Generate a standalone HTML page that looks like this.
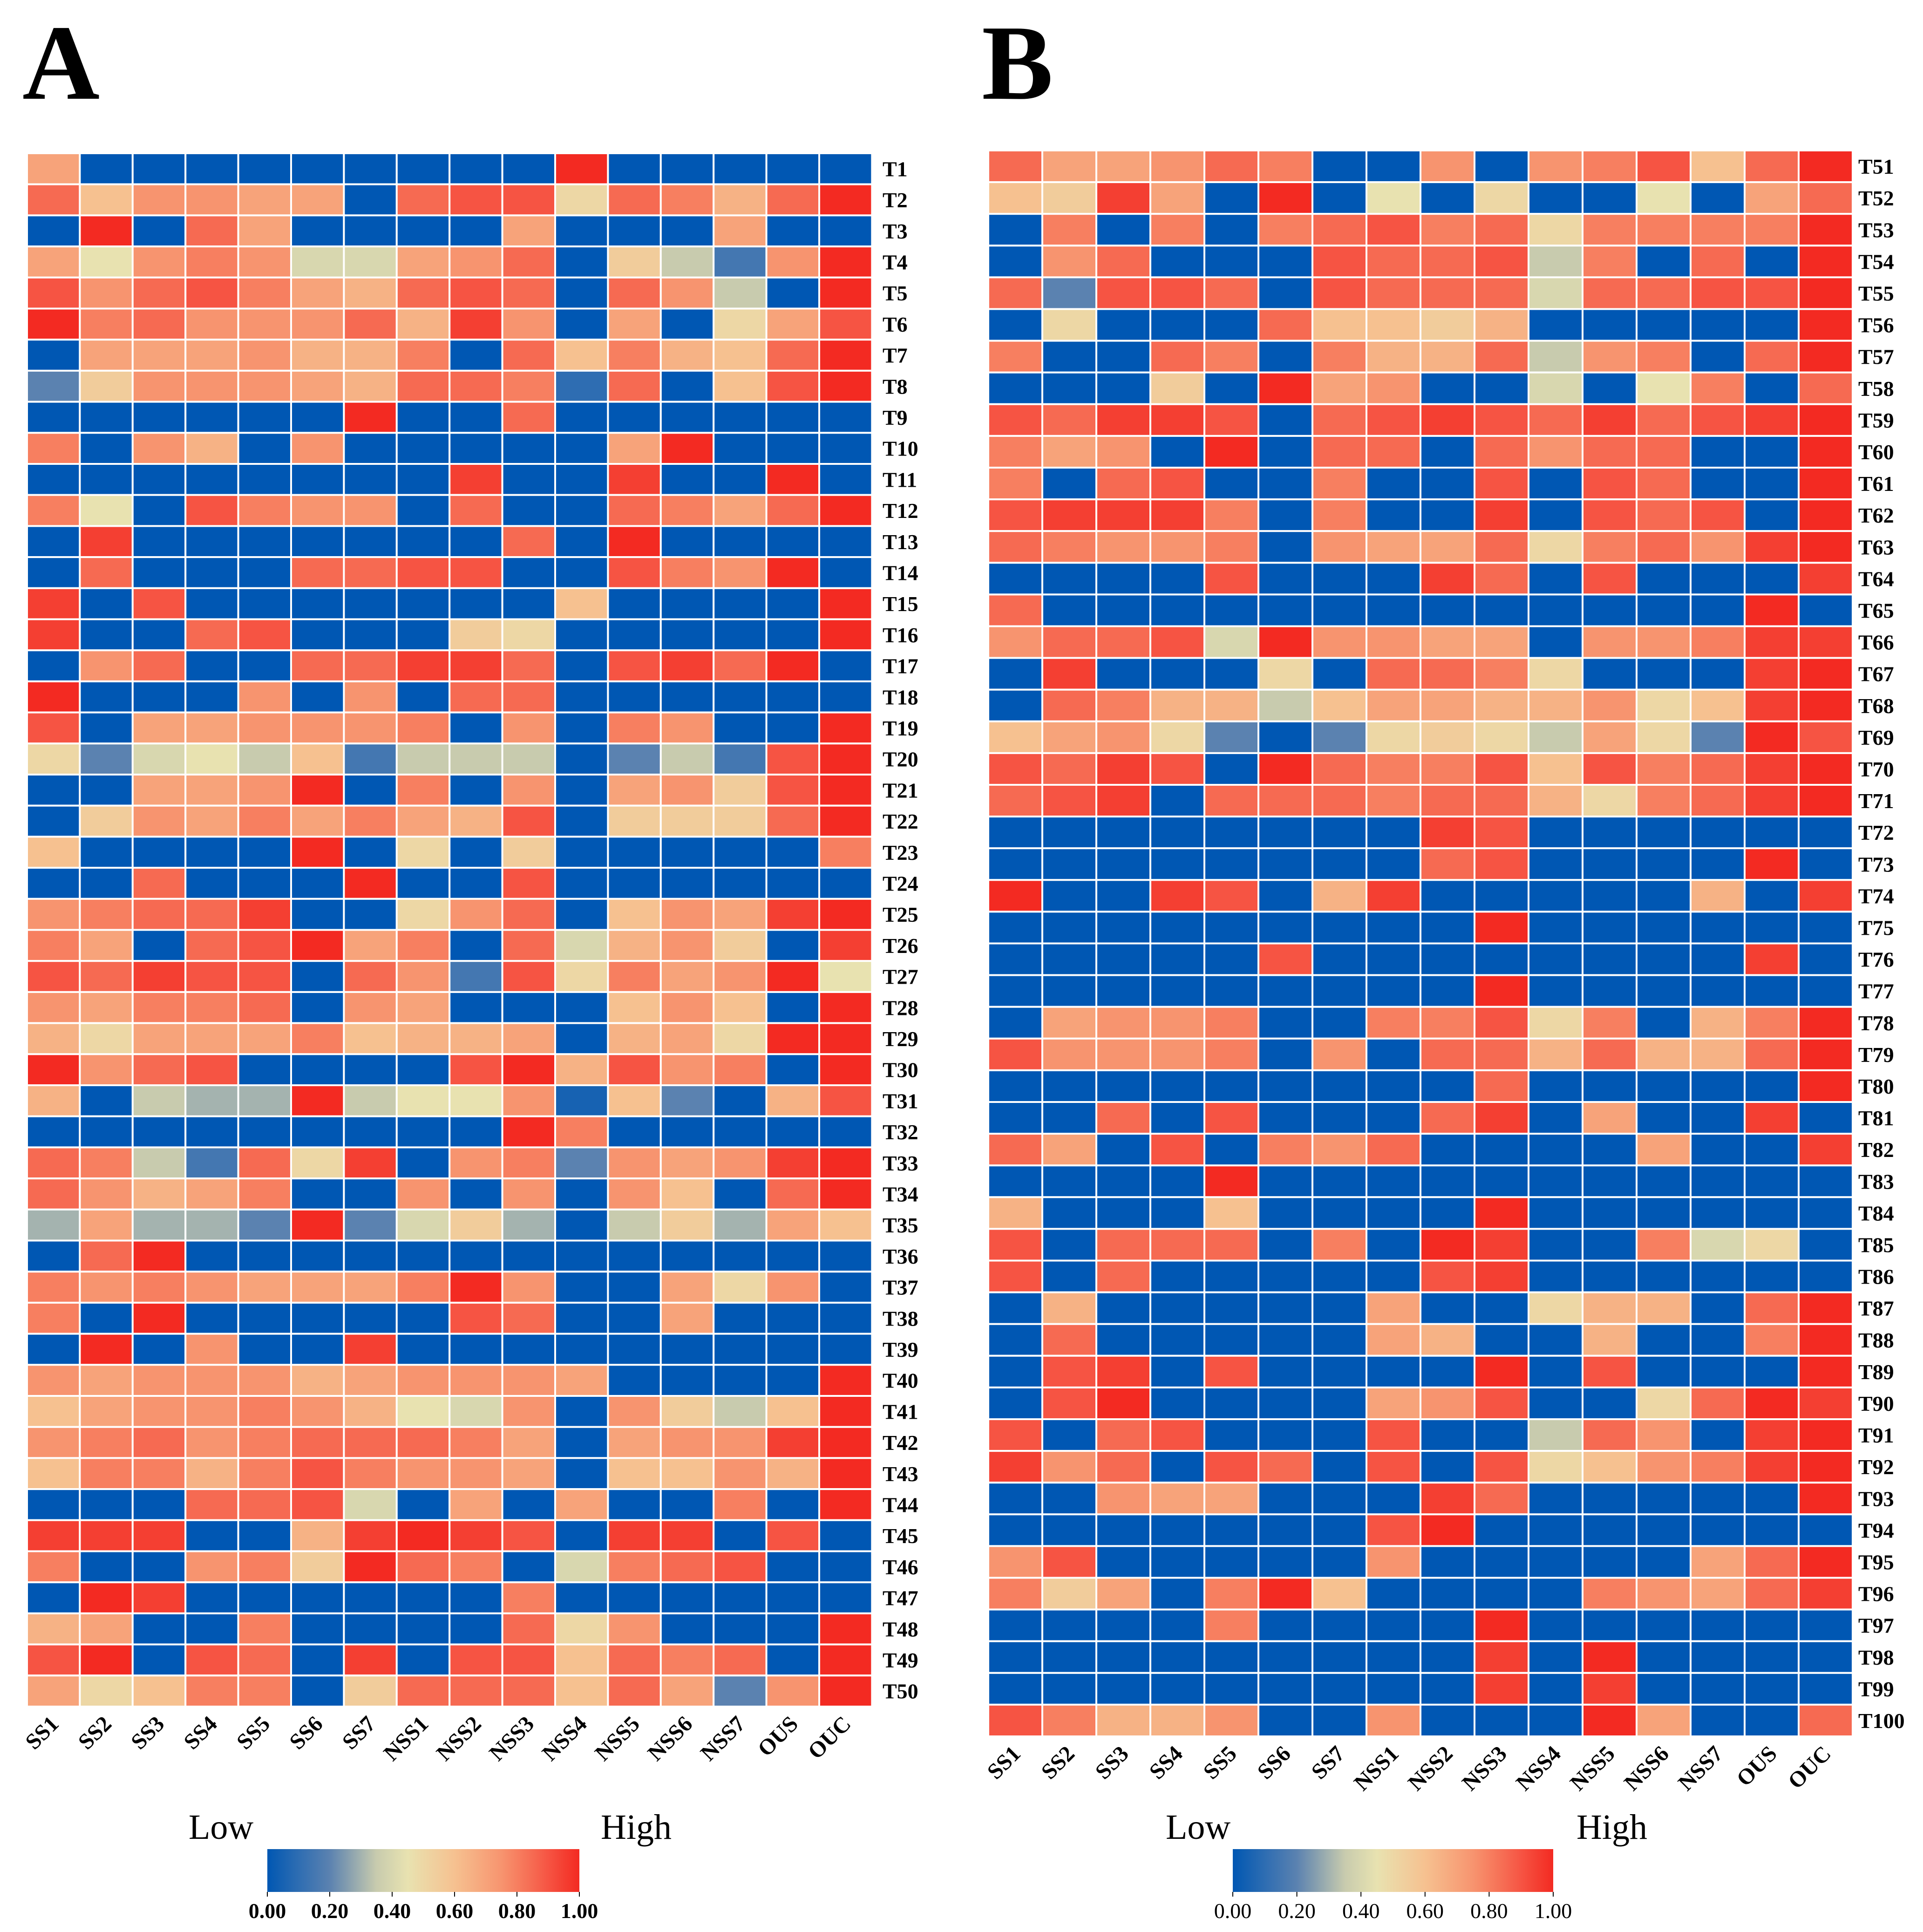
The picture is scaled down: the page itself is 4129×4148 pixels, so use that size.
<!DOCTYPE html>
<html><head><meta charset="utf-8"><style>
body{margin:0;background:#fff;}
svg{display:block;font-family:"Liberation Serif","Times New Roman",serif;}
text{font-family:"Liberation Serif","Times New Roman",serif;}
</style></head><body>
<svg id="fig" width="4129" height="4148" viewBox="0 0 4129 4148" xmlns="http://www.w3.org/2000/svg" font-family="Liberation Serif, serif">
<text x="48" y="212" font-size="230" font-weight="bold">A</text>
<text x="2108" y="212" font-size="230" font-weight="bold">B</text>
<g id="ga"></g>
<g id="gb"></g>
</svg>
<script>
const columns = ["SS1","SS2","SS3","SS4","SS5","SS6","SS7","NSS1","NSS2","NSS3","NSS4","NSS5","NSS6","NSS7","OUS","OUC"];
const ticksA = ["0.00","0.20","0.40","0.60","0.80","1.00"];
const tickVals = [0,0.2,0.4,0.6,0.8,1];
const valuesA = [
[7,0,0,0,0,0,0,0,0,0,10,0,0,0,0,0],
[8.5,6,7.5,7.5,7,7,0,8.5,9,9,5,8.5,8,6.5,8.5,10],
[0,10,0,8.5,7,0,0,0,0,7,0,0,0,7,0,0],
[7,4.5,7.5,8,7.5,4,4,7,7.5,8.5,0,5.5,3.5,1.5,7.5,10],
[9,7.5,8.5,9,8,7,6.5,8.5,9,8.5,0,8.5,7.5,3.5,0,10],
[10,8,8.5,7.5,7.5,7.5,8.5,6.5,9.5,7.5,0,7,0,5,7,9],
[0,7,7,7,7.5,6.5,6.5,8,0,8.5,6,8,6.5,6,8.5,10],
[2,5.5,7.5,7.5,7.5,7,6.5,8.5,8.5,8,1,8.5,0,6,9,10],
[0,0,0,0,0,0,10,0,0,8.5,0,0,0,0,0,0],
[8,0,7.5,6.5,0,7.5,0,0,0,0,0,7,10,0,0,0],
[0,0,0,0,0,0,0,0,9.5,0,0,9.5,0,0,10,0],
[8,4.5,0,9,8,7.5,7.5,0,8.5,0,0,8.5,8,7,8.5,10],
[0,9.5,0,0,0,0,0,0,0,8.5,0,10,0,0,0,0],
[0,8.5,0,0,0,8.5,8.5,9,9,0,0,9,8,7.5,10,0],
[9.5,0,9,0,0,0,0,0,0,0,6,0,0,0,0,10],
[9.5,0,0,8.5,9,0,0,0,5.5,5,0,0,0,0,0,10],
[0,7.5,8.5,0,0,8.5,8.5,9.5,9.5,8.5,0,9,9.5,8.5,10,0],
[10,0,0,0,7.5,0,7.5,0,8.5,8.5,0,0,0,0,0,0],
[9,0,7,7,7.5,7.5,7.5,8,0,7.5,0,8,7.5,0,0,10],
[5,2,4,4.5,3.5,6,1.5,3.5,3.5,3.5,0,2,3.5,1.5,9,10],
[0,0,7,7,7.5,10,0,8,0,7.5,0,7,7.5,5.5,9,10],
[0,5.5,7.5,7,8,7,8,7,6.5,9,0,5.5,5.5,5.5,8.5,10],
[6,0,0,0,0,10,0,5,0,5.5,0,0,0,0,0,8],
[0,0,8.5,0,0,0,10,0,0,9,0,0,0,0,0,0],
[7.5,8,8.5,8.5,9.5,0,0,5,7.5,8.5,0,6,7.5,7,9.5,10],
[8,7,0,8.5,9,10,7,8,0,8.5,4,6.5,7.5,5.5,0,9.5],
[9,8.5,9.5,9,9,0,8.5,7.5,1.5,9,5,8,7,7.5,10,4.5],
[7.5,7,8,8,8.5,0,7.5,7,0,0,0,6,7.5,6,0,10],
[6.5,5,7,7,7,8,6,6.5,6.5,7,0,6.5,7,5,10,10],
[10,7.5,8.5,9,0,0,0,0,9,10,6.5,9,7.5,8,0,10],
[6.5,0,3.5,3,3,10,3.5,4.5,4.5,7.5,0.5,6,2,0,6.5,9],
[0,0,0,0,0,0,0,0,0,10,8,0,0,0,0,0],
[8.5,8,3.5,1.5,8.5,5,9.5,0,7.5,8,2,7.5,7,7.5,9.5,10],
[8.5,7.5,6.5,7,8,0,0,7.5,0,7.5,0,7.5,6,0,8.5,10],
[3,7,3,3,2,10,2,4,5.5,3,0,3.5,5.5,3,7,6],
[0,8.5,10,0,0,0,0,0,0,0,0,0,0,0,0,0],
[8,7.5,8,7.5,7,7,7,8,10,7.5,0,0,7,5,7.5,0],
[8,0,10,0,0,0,0,0,9,8.5,0,0,7,0,0,0],
[0,10,0,7.5,0,0,9.5,0,0,0,0,0,0,0,0,0],
[7.5,7,7.5,7.5,7.5,6.5,7,7.5,7.5,7.5,7,0,0,0,0,10],
[6,7,7.5,7.5,8,7.5,6.5,4.5,4,7.5,0,7.5,5.5,3.5,6,10],
[7.5,8,8.5,7.5,8,8.5,8.5,8.5,8,7,0,7,7.5,7.5,9.5,10],
[6,8,8,6.5,8,9,8,7.5,7.5,7,0,6,6,7.5,6.5,10],
[0,0,0,8.5,8.5,9,4,0,7,0,7,0,0,8,0,10],
[9.5,9.5,9.5,0,0,6.5,9.5,10,9.5,9,0,9.5,9.5,0,9,0],
[8,0,0,7.5,8,5.5,10,8.5,8,0,4,8,8.5,9,0,0],
[0,10,9.5,0,0,0,0,0,0,8,0,0,0,0,0,0],
[6.5,7,0,0,8,0,0,0,0,8.5,5,7.5,0,0,0,10],
[9,10,0,9,8.5,0,9.5,0,9,9,6,8.5,8,8.5,0,10],
[7,5,6,8,8,0,5.5,8.5,8.5,8.5,6,8.5,7,2,7.5,10]
];
const valuesB = [
[8.5,7,7,7.5,8.5,8,0,0,7.5,0,7.5,8,9,6,8.5,10],
[6,5.5,9.5,7,0,10,0,4.5,0,5,0,0,4.5,0,7,8.5],
[0,8,0,8,0,8,8.5,9,8,8.5,5,8,8,8,8,10],
[0,7.5,8.5,0,0,0,9,8.5,8.5,9,3.5,8,0,8.5,0,10],
[8.5,2,9,9,8.5,0,9,8.5,8.5,8.5,4,8.5,8.5,9,9,10],
[0,5,0,0,0,8.5,6,6,5.5,6.5,0,0,0,0,0,10],
[8,0,0,8.5,8,0,8,6.5,6.5,8.5,3.5,7.5,8,0,8.5,10],
[0,0,0,5.5,0,10,7,7.5,0,0,4,0,4.5,8,0,8.5],
[9,8.5,9.5,9.5,9,0,8.5,9,9.5,9,8.5,9.5,8.5,9,9.5,10],
[8,7,7.5,0,10,0,8.5,8.5,0,8.5,7.5,8.5,8.5,0,0,10],
[8,0,8.5,9,0,0,8,0,0,9,0,9,8.5,0,0,10],
[9,9.5,9.5,9.5,8,0,8,0,0,9.5,0,9,8.5,9,0,10],
[8.5,8,7.5,7.5,8,0,7.5,7,7,8.5,5,8,8.5,7.5,9.5,10],
[0,0,0,0,9,0,0,0,9.5,8.5,0,9,0,0,0,9.5],
[8.5,0,0,0,0,0,0,0,0,0,0,0,0,0,10,0],
[7.5,8.5,8.5,9,4,10,7.5,7.5,7,7,0,7.5,7.5,8,9.5,9.5],
[0,9.5,0,0,0,5,0,8.5,8.5,8,5,0,0,0,9.5,10],
[0,8.5,8,6.5,6.5,3.5,6,7,7,6.5,6.5,7.5,5,6,9.5,10],
[6,7,7.5,5,2,0,2,5,5.5,5,3.5,7,5,2,10,9],
[9,8.5,9.5,9,0,10,8.5,8,8,9,6,9,8,8.5,9.5,10],
[8.5,9,9.5,0,8.5,8.5,8.5,8,8.5,8.5,6.5,5,8,8.5,9.5,10],
[0,0,0,0,0,0,0,0,9.5,9,0,0,0,0,0,0],
[0,0,0,0,0,0,0,0,8.5,9,0,0,0,0,10,0],
[10,0,0,9.5,9,0,6.5,9.5,0,0,0,0,0,6.5,0,9.5],
[0,0,0,0,0,0,0,0,0,10,0,0,0,0,0,0],
[0,0,0,0,0,9,0,0,0,0,0,0,0,0,9.5,0],
[0,0,0,0,0,0,0,0,0,10,0,0,0,0,0,0],
[0,7,7.5,7.5,8,0,0,8,8,9,5,8,0,6.5,8,10],
[9,7.5,7.5,7.5,8,0,7.5,0,8.5,8.5,6.5,8.5,6.5,6.5,8.5,10],
[0,0,0,0,0,0,0,0,0,8.5,0,0,0,0,0,10],
[0,0,8.5,0,9,0,0,0,8.5,9.5,0,7,0,0,9.5,0],
[8.5,7,0,9,0,8,7.5,8.5,0,0,0,0,7,0,0,9.5],
[0,0,0,0,10,0,0,0,0,0,0,0,0,0,0,0],
[6.5,0,0,0,6,0,0,0,0,10,0,0,0,0,0,0],
[9,0,8.5,8.5,8.5,0,8,0,10,9.5,0,0,8,4,5,0],
[9,0,8.5,0,0,0,0,0,9,9.5,0,0,0,0,0,0],
[0,6.5,0,0,0,0,0,7,0,0,5,6.5,6.5,0,8.5,10],
[0,8.5,0,0,0,0,0,7,6.5,0,0,6.5,0,0,8,10],
[0,9,9.5,0,9,0,0,0,0,10,0,9,0,0,0,10],
[0,9,10,0,0,0,0,7,7.5,9,0,0,5,8.5,10,9.5],
[9,0,8.5,9,0,0,0,9,0,0,3.5,8.5,7.5,0,9.5,10],
[9.5,7.5,8.5,0,9,8.5,0,9,0,9,5,6,7.5,8,9.5,10],
[0,0,7.5,7,7,0,0,0,9.5,8.5,0,0,0,0,0,10],
[0,0,0,0,0,0,0,9,10,0,0,0,0,0,0,0],
[7.5,9,0,0,0,0,0,7.5,0,0,0,0,0,7,8.5,10],
[8,5.5,7,0,8,10,6,0,0,0,0,8,7.5,7,8.5,9.5],
[0,0,0,0,8,0,0,0,0,10,0,0,0,0,0,0],
[0,0,0,0,0,0,0,0,0,9.5,0,10,0,0,0,0],
[0,0,0,0,0,0,0,0,0,9.5,0,9.5,0,0,0,0],
[9,8,6.5,6.5,7.5,0,0,7.5,0,0,0,10,7,0,0,8.5]
];
const NS="http://www.w3.org/2000/svg";
const stops=[[0,[0,87,179]],[0.2,[91,130,176]],[0.35,[200,203,174]],[0.45,[232,226,176]],[0.6,[246,193,144]],[0.75,[247,148,111]],[0.88,[246,93,73]],[1,[243,42,34]]];
function color(v){v=Math.max(0,Math.min(1,v));for(let i=1;i<stops.length;i++){if(v<=stops[i][0]){const a=stops[i-1],b=stops[i];const t=(v-a[0])/(b[0]-a[0]);const c=a[1].map((x,k)=>Math.round(x+(b[1][k]-x)*t));return `rgb(${c})`;}}return 'rgb(243,42,34)';}
function mk(tag,attrs,parent){const e=document.createElementNS(NS,tag);for(const k in attrs)e.setAttribute(k,attrs[k]);parent.appendChild(e);return e;}
function panel(g,vals,offset,x0,y0,cw,rh,labX,cb,lowX,highX,boldTicks){
  const xs=c=>x0+c*cw, ys=r=>y0+r*rh;
  vals.forEach((row,r)=>{row.forEach((v,c)=>{
    const e=mk('rect',{x:xs(c),y:ys(r),width:cw,height:rh,fill:color(v/10),stroke:'#fff','stroke-width':4},g);
    
    
  });
  const t=mk('text',{x:labX,y:ys(r)+rh/2+16,'font-size':46,'font-weight':'bold'},g);
  t.textContent='T'+(r+offset);
  
  
  });
  const yb=y0+vals.length*rh;
  columns.forEach((c,i)=>{
    const cx=xs(i)+cw/2+14, cy=yb+40;
    const t=mk('text',{x:cx,y:cy,'font-size':48,'font-weight':'bold','text-anchor':'end',transform:`rotate(-45 ${cx} ${cy})`},g);
    t.textContent=c;
    
    
  });
  const id='grad'+offset;
  const defs=mk('defs',{},g);const lg=mk('linearGradient',{id:id,x1:0,x2:1,y1:0,y2:0},defs);
  for(let i=0;i<=20;i++){mk('stop',{offset:i/20,'stop-color':color(i/20)},lg);}
  const bar=mk('rect',{x:cb[0],y:3970,width:cb[1]-cb[0],height:92,fill:`url(#${id})`},g);
  
  
  tickVals.forEach((v,i)=>{
    const x=cb[0]+v*(cb[1]-cb[0]);
    mk('line',{x1:x,x2:x,y1:4062,y2:4072,stroke:'#000','stroke-width':2},g);
    const t=mk('text',{x:x,y:4118,'font-size':46,'font-weight':boldTicks?'bold':'normal','text-anchor':'middle'},g);
    t.textContent=ticksA[i];
    
    
  });
  const lo=mk('text',{x:lowX,y:3948,'font-size':76},g);lo.textContent='Low';
  
  
  const hi=mk('text',{x:highX,y:3948,'font-size':76},g);hi.textContent='High';
  
  
}
panel(document.getElementById('ga'),valuesA,1,58,329,113.4,66.7,1895,[574,1244],405,1290,true);
panel(document.getElementById('gb'),valuesB,51,2122,323,116,68.1,3990,[2647,3335],2503,3385,false);
</script>
</body></html>
